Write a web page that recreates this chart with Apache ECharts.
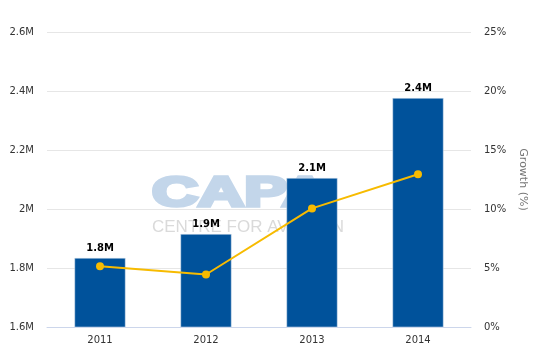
<!DOCTYPE html>
<html><head><meta charset="utf-8">
<script src="https://cdn.jsdelivr.net/npm/echarts@6/dist/echarts.min.js"></script>
<style>html,body{margin:0;padding:0;background:#fff}#c{width:539px;height:359px}</style>
</head><body><div id="c"></div>
<script>
var categories = ['2011', '2012', '2013', '2014'];
var passengers = [1834000, 1915000, 2105000, 2376000];
var barLabels = ['1.8M', '1.9M', '2.1M', '2.4M'];
var growth = [5.15, 4.45, 10.05, 12.95];
var leftTicks = { min: 1600000, max: 2600000, interval: 200000 };
var rightTicks = { min: 0, max: 25, interval: 5 };

var FONT = 'DejaVu Sans';
var chart = echarts.init(document.getElementById('c'));
function fmtM(v){ return (v/1000000) + 'M'; }
chart.setOption({
  animation: false,
  backgroundColor: '#fff',
  textStyle: { fontFamily: FONT },
  grid: { left: 47, right: 68, top: 32, bottom: 32, containLabel: false },
  graphic: [
    { type: 'text', x: 152, y: 173, scaleX: 1.52, z: 0, silent: true,
      style: { text: 'CAPA', x: 0, y: 0, verticalAlign: 'top', align: 'left',
               fontWeight: 'bold', fontSize: 42,
               fontFamily: 'Liberation Sans', fill: '#c3d6ea',
               stroke: '#c3d6ea', lineWidth: 3.5, lineJoin: 'round' } },
    { type: 'text', x: 152, y: 219, z: 0, silent: true,
      style: { text: 'CENTRE FOR AVIATION', x: 0, y: 0, verticalAlign: 'top', align: 'left',
               fontFamily: 'Liberation Sans', fontSize: 17, fill: '#dadada' } }
  ],
  xAxis: {
    type: 'category', data: categories,
    axisLine: { lineStyle: { color: '#ccd6eb', width: 1 } },
    axisTick: { alignWithLabel: true, length: 5, lineStyle: { color: '#ccd6eb' } },
    axisLabel: { color: '#333', fontSize: 10, margin: 8, fontFamily: FONT }
  },
  yAxis: [
    { type: 'value', min: leftTicks.min, max: leftTicks.max, interval: leftTicks.interval,
      axisLabel: { color: '#333', fontSize: 10, margin: 13, formatter: fmtM, fontFamily: FONT },
      splitLine: { lineStyle: { color: '#e6e6e6', width: 1 } },
      axisLine: { show: false }, axisTick: { show: false } },
    { type: 'value', min: rightTicks.min, max: rightTicks.max, interval: rightTicks.interval,
      position: 'right',
      name: 'Growth (%)', nameLocation: 'middle', nameRotate: -90, nameGap: 46,
      nameTextStyle: { color: '#777', fontSize: 11, fontFamily: FONT },
      axisLabel: { color: '#333', fontSize: 10, margin: 13, formatter: '{value}%', fontFamily: FONT },
      splitLine: { show: false }, axisLine: { show: false }, axisTick: { show: false } }
  ],
  series: [
    { type: 'bar', data: passengers, barWidth: 51, yAxisIndex: 0, z: 2,
      itemStyle: { color: '#00529b', borderColor: '#dde6f0', borderWidth: 0.5 },
      label: { show: true, position: 'top', distance: 5, color: '#000', fontWeight: 'bold',
               fontSize: 10, fontFamily: FONT,
               formatter: function(p){ return barLabels[p.dataIndex]; } } },
    { type: 'line', data: growth, yAxisIndex: 1, z: 3,
      symbol: 'circle', symbolSize: 8,
      lineStyle: { color: '#f7bb00', width: 2 },
      itemStyle: { color: '#f7bb00' } }
  ]
});
</script></body></html>
